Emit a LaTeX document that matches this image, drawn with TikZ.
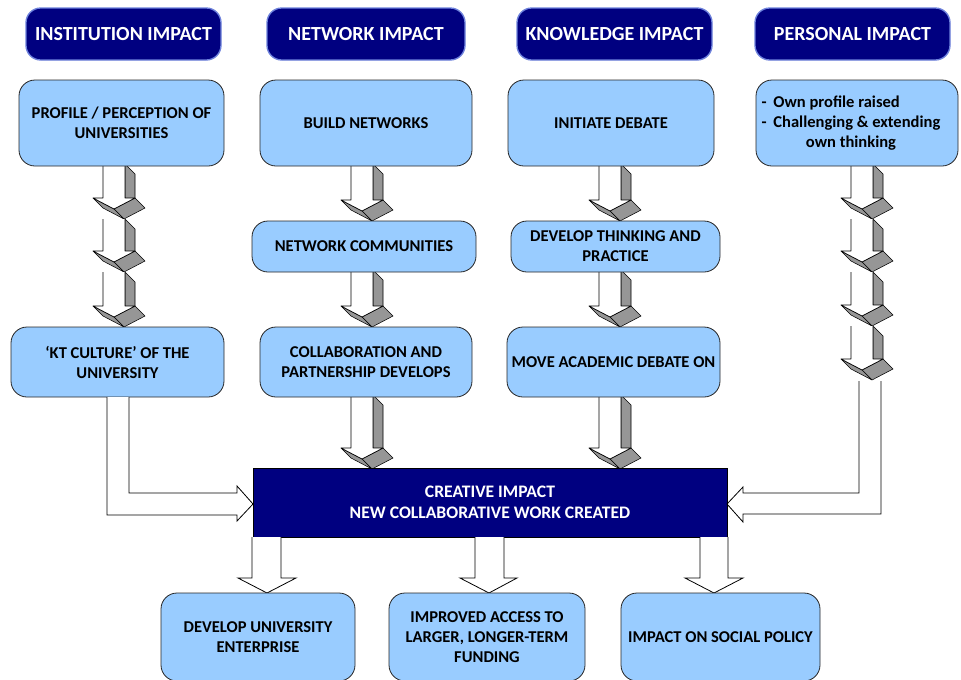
\documentclass[tikz,border=0pt]{standalone}
\usepackage{fontspec}
\setmainfont{Carlito}
\definecolor{navy}{RGB}{0,0,128}
\definecolor{lblue}{RGB}{153,204,255}
\definecolor{sidegray}{RGB}{150,150,150}
\definecolor{hdrline}{RGB}{110,130,220}
\tikzset{
 hdr/.style={fill=navy, draw=hdrline, line width=1pt, rounded corners=11pt, text=white, font=\fontsize{15}{18}\selectfont\bfseries},
 lbox/.style={fill=lblue, draw=black!85, line width=0.6pt, rounded corners=12pt, font=\fontsize{12.4}{15}\selectfont\bfseries},
 cbox/.style={fill=navy, draw=black, line width=0.6pt, text=white, font=\fontsize{13.2}{15.75}\selectfont\bfseries},
 hollow/.style={draw=black, line width=0.6pt},
 face/.style={fill=sidegray, draw=black, line width=0.4pt, line join=round},
}
\newcommand\pbox[7]{%
 \pgfmathsetmacro\pbcx{(#3+#5)/2}%
 \pgfmathsetmacro\pbcy{(#4+#6)/2}%
 \pgfmathsetmacro\pbw{(#5-#3)*0.75}%
 \pgfmathsetmacro\pbh{(#6-#4)*0.75}%
 \node[#2, align=center, inner sep=0pt, outer sep=0pt, minimum width=\pbw pt, minimum height=\pbh pt] (#1) at (\pbcx,\pbcy) {#7};}
% 3-D block arrow: centre x, top y, lowest y (px)
\newcommand\tdarrow[3]{%
 \filldraw[face] ({#1+11},{#2}) -- ({#1+21},{#2+10}) -- ({#1+21},{#3-11}) -- ({#1+11},{#3-21}) -- cycle;
 \filldraw[face] ({#1+21},{#3-21}) -- ({#1+31},{#3-11}) -- ({#1+10},{#3}) -- ({#1},{#3-10}) -- cycle;
 \filldraw[face] ({#1-21},{#3-21}) -- ({#1-11},{#3-11}) -- ({#1+10},{#3}) -- ({#1},{#3-10}) -- cycle;
 \fill[white] ({#1-11},{#2}) -- ({#1-11},{#3-21}) -- ({#1-21},{#3-21}) -- ({#1},{#3-10}) -- ({#1+21},{#3-21}) -- ({#1+11},{#3-21}) -- ({#1+11},{#2}) -- cycle;
 \draw[line width=0.5pt, line join=round] ({#1-11},{#2}) -- ({#1-11},{#3-21}) -- ({#1-21},{#3-21}) -- ({#1},{#3-10}) -- ({#1+21},{#3-21}) -- ({#1+11},{#3-21}) -- ({#1+11},{#2});
}
% hollow down arrow: shaft left, shaft right, top, shaft bottom, wing left, wing right, tip x, tip y
\newcommand\hdown[8]{%
 \fill[white] (#1,#3) -- (#1,#4) -- (#5,#4) -- (#7,#8) -- (#6,#4) -- (#2,#4) -- (#2,#3) -- cycle;
 \draw[hollow] (#1,#3) -- (#1,#4) -- (#5,#4) -- (#7,#8) -- (#6,#4) -- (#2,#4) -- (#2,#3);
}
\begin{document}
\begin{tikzpicture}[x=0.75pt,y=-0.75pt]
\useasboundingbox[fill=white] (0,0) rectangle (961,679);

% ---- 3-D arrows (drawn first, boxes overlap them)
\tdarrow{114}{164}{219}
\tdarrow{114}{219}{272}
\tdarrow{114}{272}{327}
\tdarrow{362}{164}{221}
\tdarrow{362}{270}{327}
\tdarrow{362}{395}{469}
\tdarrow{610}{164}{221}
\tdarrow{610}{270}{327}
\tdarrow{610}{395}{469}
\tdarrow{862}{164}{219}
\tdarrow{862}{219}{272}
\tdarrow{862}{272}{326}
\tdarrow{862}{326}{380}

% ---- headers
\pbox{h1}{hdr}{26}{8}{221}{60}{INSTITUTION IMPACT}
\pbox{h2}{hdr}{267}{8}{465}{60}{NETWORK IMPACT}
\pbox{h3}{hdr}{517}{8}{712}{60}{KNOWLEDGE IMPACT}
\pbox{h4}{hdr}{755}{8}{950}{60}{PERSONAL IMPACT}

% ---- row 1
\pbox{b1}{lbox}{19}{80}{224}{166}{PROFILE / PERCEPTION OF\\UNIVERSITIES}
\pbox{b2}{lbox}{260}{80}{472}{166}{BUILD NETWORKS}
\pbox{b3}{lbox}{508}{80}{714}{166}{INITIATE DEBATE}
\pbox{b4}{lbox}{756}{80}{958}{166}{\begin{tabular}{@{}l@{\hspace{5pt}}l@{}}-&Own profile raised\\-&Challenging \& extending\\\multicolumn{2}{c}{own thinking}\end{tabular}\hspace*{9pt}}

% ---- row 2
\pbox{n2}{lbox}{252}{221}{476}{272}{NETWORK COMMUNITIES}
\pbox{k2}{lbox}{511}{221}{720}{272}{DEVELOP THINKING AND\\PRACTICE}

% ---- row 3
\pbox{i3}{lbox}{11}{327}{224}{397}{‘KT CULTURE’ OF THE\\UNIVERSITY}
\pbox{n3}{lbox}{260}{327}{472}{397}{COLLABORATION AND\\PARTNERSHIP DEVELOPS}
\pbox{k3}{lbox}{507}{327}{720}{397}{MOVE ACADEMIC DEBATE ON}

% ---- centre
\pbox{c}{cbox}{253}{468}{727}{537}{CREATIVE IMPACT\\NEW COLLABORATIVE WORK CREATED}

% ---- hollow L arrows into centre box
\fill[white] (129,397) -- (129,493) -- (237,493) -- (237,486) -- (253,504) -- (237,521) -- (237,515) -- (107,515) -- (107,397) -- cycle;
\draw[hollow] (129,397) -- (129,493) -- (237,493) -- (237,486) -- (253,504) -- (237,521) -- (237,515) -- (107,515) -- (107,397);
\fill[white] (859,381) -- (859,493) -- (743,493) -- (743,487) -- (727,504) -- (743,522) -- (743,514) -- (881,514) -- (881,381) -- cycle;
\draw[hollow] (859,381) -- (859,493) -- (743,493) -- (743,487) -- (727,504) -- (743,522) -- (743,514) -- (881,514) -- (881,381);

% ---- hollow down arrows to bottom row
\hdown{252}{281}{537}{578}{238}{296}{267}{593}
\hdown{475}{504}{537}{578}{460}{517}{489}{593}
\hdown{700}{728}{537}{578}{685}{743}{714}{593}

% ---- bottom row
\pbox{d1}{lbox}{161}{593}{355}{681}{DEVELOP UNIVERSITY\\ENTERPRISE}
\pbox{d2}{lbox}{389}{593}{585}{681}{IMPROVED ACCESS TO\\LARGER, LONGER-TERM\\FUNDING}
\pbox{d3}{lbox}{621}{593}{820}{681}{IMPACT ON SOCIAL POLICY}
\end{tikzpicture}
\end{document}
